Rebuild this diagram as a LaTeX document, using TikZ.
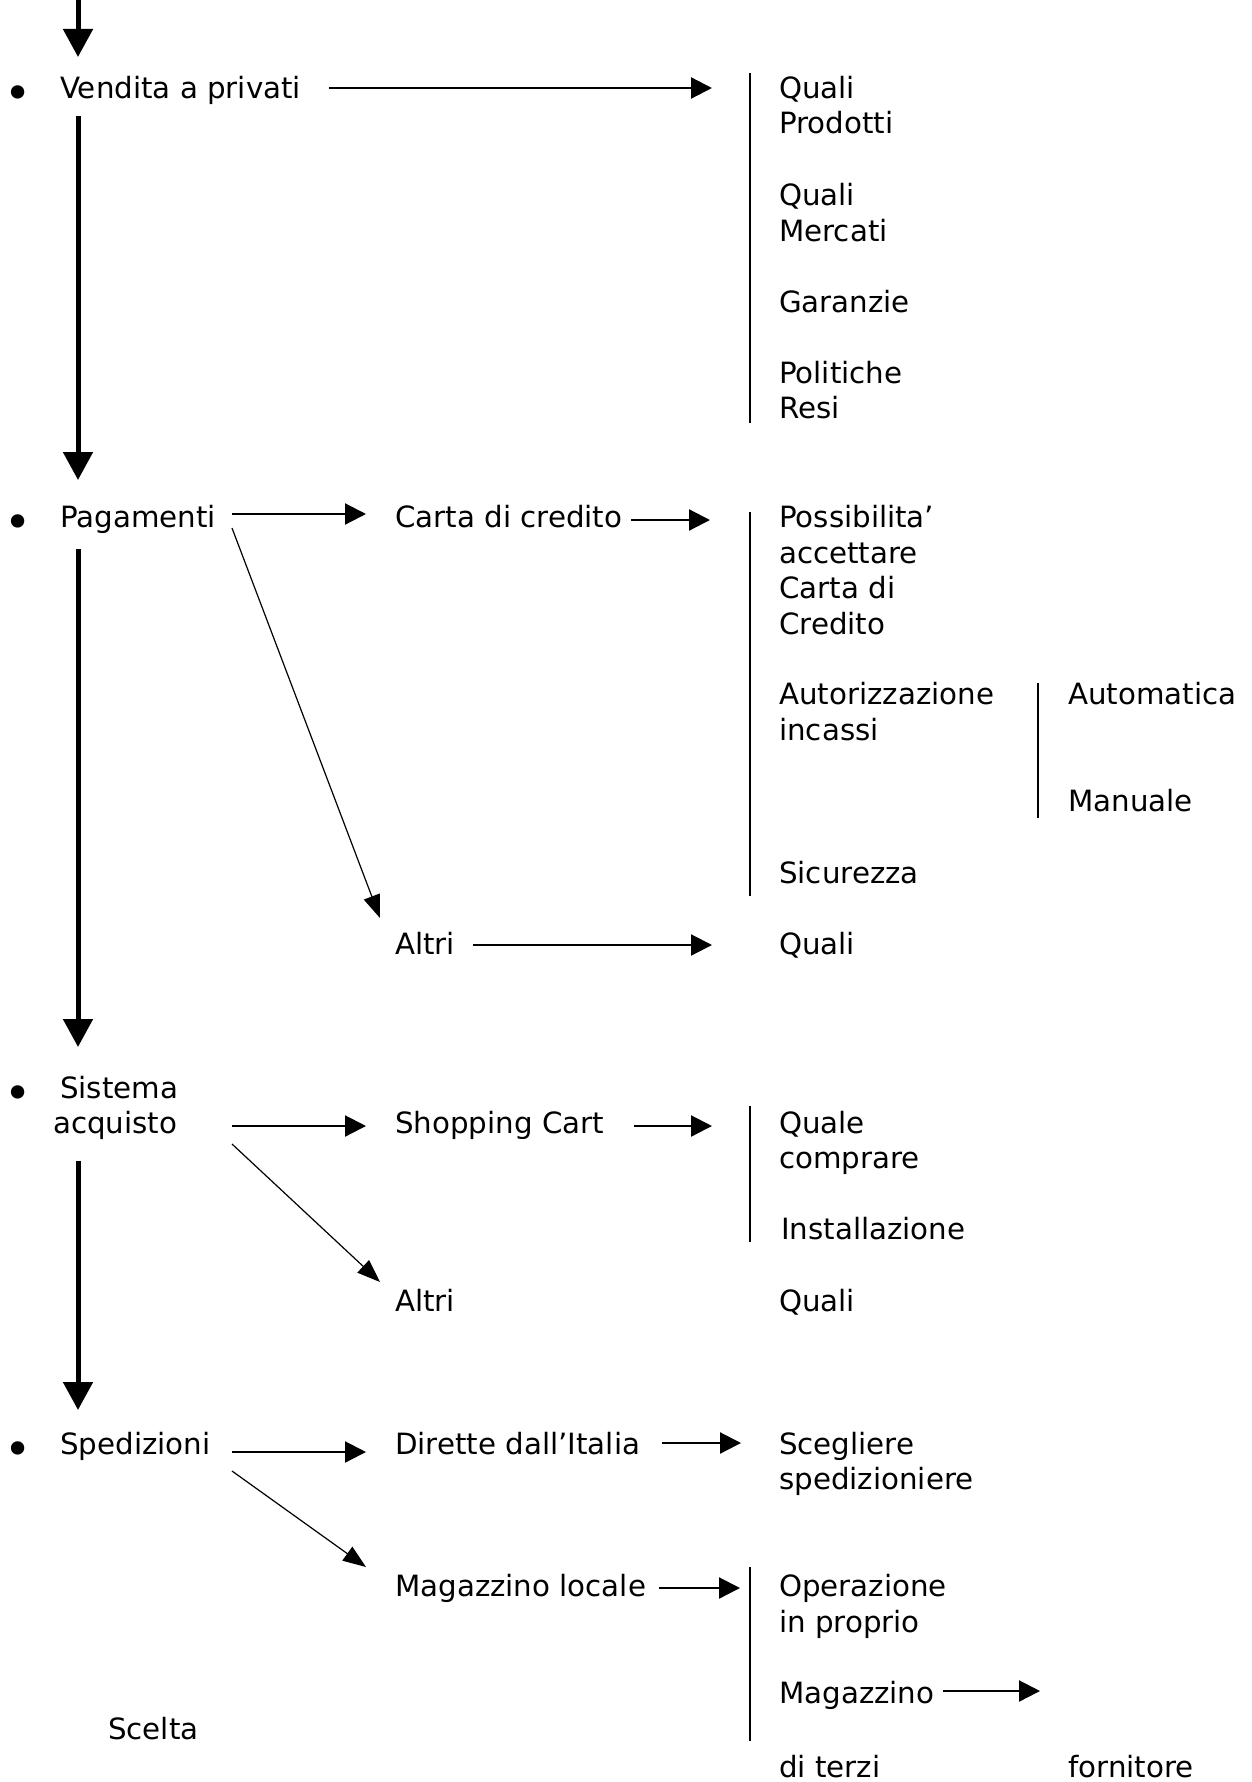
\documentclass[tikz,border=0pt]{standalone}
\usepackage{fontspec}
\setmainfont{DejaVu Sans}
\usetikzlibrary{arrows.meta}
\begin{document}
\begin{tikzpicture}[x=1pt,y=-1pt,
  lbl/.style={anchor=base west,inner sep=0pt,font=\fontsize{29.3}{35.5}\selectfont},
  bul/.style={anchor=base,inner sep=0pt,font=\fontsize{46}{46}\selectfont},
  mainarrow/.style={line width=5pt,-{Triangle[length=28pt,width=29pt]}},
  harrow/.style={line width=2.2pt,-{Triangle[length=21pt,width=21pt]}},
  darrow/.style={line width=1.2pt,-{Triangle[length=23pt,width=17pt]}},
  barline/.style={line width=1.6pt}]
\useasboundingbox[fill=white] (0,0) rectangle (1252,1782);

% ---------- left column ----------
\node[bul] (b1) at (18,110) {•};
\node[lbl] (vend) at (60,99) {Vendita a privati};
\node[bul] (b2) at (18,538) {•};
\node[lbl] (pag) at (60,527) {Pagamenti};
\node[bul] (b3) at (18,1109) {•};
\node[lbl] (sis) at (60,1098) {Sistema};
\node[lbl] (acq) at (53,1133) {acquisto};
\node[bul] (b4) at (18,1465) {•};
\node[lbl] (sped) at (60,1454) {Spedizioni};
\node[lbl] (scelta) at (108,1739) {Scelta};

% ---------- middle column ----------
\node[lbl] (carta) at (395,527) {Carta di credito};
\node[lbl] (altri1) at (395,954) {Altri};
\node[lbl] (shop) at (395,1133) {Shopping Cart};
\node[lbl] (altri2) at (395,1311) {Altri};
\node[lbl] (dir) at (395,1454) {Dirette dall’Italia};
\node[lbl] (magl) at (395,1596) {Magazzino locale};

% ---------- right column ----------
\node[lbl] (q1) at (779,99) {Quali};
\node[lbl] (q1b) at (779,134) {Prodotti};
\node[lbl] (q2) at (779,205) {Quali};
\node[lbl] (q2b) at (779,241) {Mercati};
\node[lbl] (gar) at (779,312) {Garanzie};
\node[lbl] (pol) at (779,383) {Politiche};
\node[lbl] (resi) at (779,418) {Resi};

\node[lbl] (poss) at (779,527) {Possibilita’};
\node[lbl] (acc) at (779,563) {accettare};
\node[lbl] (cdi) at (779,598) {Carta di};
\node[lbl] (cred) at (779,634) {Credito};
\node[lbl] (aut) at (779,704) {Autorizzazione};
\node[lbl] (inc) at (779,740) {incassi};
\node[lbl] (sic) at (779,883) {Sicurezza};
\node[lbl] (auto) at (1068,704) {Automatica};
\node[lbl] (man) at (1068,811) {Manuale};
\node[lbl] (q3) at (779,954) {Quali};

\node[lbl] (quale) at (779,1133) {Quale};
\node[lbl] (comp) at (779,1168) {comprare};
\node[lbl] (inst) at (781,1239) {Installazione};
\node[lbl] (q4) at (779,1311) {Quali};

\node[lbl] (sce) at (779,1454) {Scegliere};
\node[lbl] (spe) at (779,1489) {spedizioniere};
\node[lbl] (op) at (779,1596) {Operazione};
\node[lbl] (prop) at (779,1632) {in proprio};
\node[lbl] (mag) at (779,1703) {Magazzino};
\node[lbl] (terzi) at (779,1777) {di terzi};
\node[lbl] (forn) at (1068,1777) {fornitore};

% ---------- coordinates ----------
\coordinate (top) at (78,0);
\coordinate (m1s) at (78,116);
\coordinate (m1e) at (78,480);
\coordinate (m2s) at (78,549);
\coordinate (m2e) at (78,1047);
\coordinate (m3s) at (78,1161);
\coordinate (m3e) at (78,1410);

% main flow
\draw[mainarrow] (top) -- (78,57);
\draw[mainarrow] (m1s) -- (m1e);
\draw[mainarrow] (m2s) -- (m2e);
\draw[mainarrow] (m3s) -- (m3e);

% horizontal arrows
\draw[harrow] (329,88) -- (712,88);
\draw[harrow] (232,514) -- (366,514);
\draw[harrow] (631,520) -- (710,520);
\draw[harrow] (473,945) -- (712,945);
\draw[harrow] (232,1126) -- (366,1126);
\draw[harrow] (634,1126) -- (712,1126);
\draw[harrow] (232,1452) -- (366,1452);
\draw[harrow] (662,1443) -- (741,1443);
\draw[harrow] (659,1588) -- (740,1588);
\draw[harrow] (943,1691) -- (1040,1691);

% diagonal arrows
\draw[darrow] (232,528) -- (380,918);
\draw[darrow] (232,1144) -- (380,1282);
\draw[darrow] (232,1471) -- (366,1567);

% brackets
\draw[barline] (750,73) -- (750,423);
\draw[barline] (750,512) -- (750,896);
\draw[barline] (1038,683) -- (1038,818);
\draw[barline] (750,1106) -- (750,1242);
\draw[barline] (750,1567) -- (750,1741);
\end{tikzpicture}
\end{document}
